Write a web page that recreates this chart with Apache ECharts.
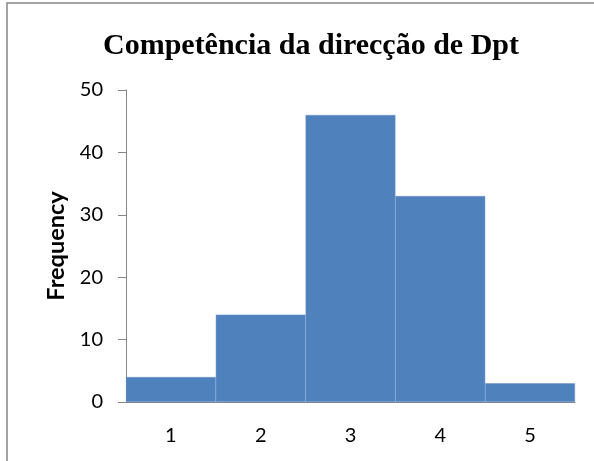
<!DOCTYPE html>
<html><head><meta charset="utf-8">
<script src="https://cdn.jsdelivr.net/npm/echarts@6/dist/echarts.min.js"></script>
<style>html,body{margin:0;padding:0;background:#fff}#c{width:594px;height:461px}</style>
</head><body><div id="c"></div>
<script>
const titleText = 'Competência da direcção de Dpt';
const categories = ['1', '2', '3', '4', '5'];
const frequency = [4, 14, 46, 33, 3];
const yTicks = [0, 10, 20, 30, 40, 50];

const chart = echarts.init(document.getElementById('c'), null, {renderer: 'canvas'});
chart.setOption({
  animation: false,
  backgroundColor: '#fff',
  title: {
    text: titleText, left: 306, top: 26, textAlign: 'center',
    textStyle: {fontFamily: 'Liberation Serif', fontWeight: 'bold', fontSize: 30, color: '#000'}
  },
  graphic: [{
    type: 'rect', shape: {x: 7, y: 3, width: 640, height: 520},
    style: {fill: null, stroke: '#878787', lineWidth: 1.5}, silent: true
  }],
  grid: {left: 126, top: 90, right: 19, bottom: 59},
  xAxis: {
    type: 'category', data: categories,
    axisLine: {lineStyle: {color: '#868686', width: 1}},
    axisTick: {show: false},
    axisLabel: {margin: 24, fontFamily: 'Lato', fontSize: 20, color: '#000'}
  },
  yAxis: {
    type: 'value', min: yTicks[0], max: yTicks[yTicks.length - 1], interval: 10,
    name: 'Frequency', nameLocation: 'middle', nameGap: 56, nameRotate: 90,
    nameTextStyle: {fontFamily: 'Lato', fontWeight: 'bold', fontSize: 23.5, color: '#000'},
    axisLine: {show: true, lineStyle: {color: '#868686', width: 1}},
    axisTick: {show: true, length: 8, lineStyle: {color: '#868686'}},
    splitLine: {show: false},
    axisLabel: {margin: 23, fontFamily: 'Lato', fontSize: 20, color: '#000'}
  },
  series: [{
    type: 'bar', data: frequency, barCategoryGap: '0%',
    itemStyle: {color: '#4F81BD', borderColor: '#6B95C8', borderWidth: 0.5}
  }]
});
</script></body></html>
